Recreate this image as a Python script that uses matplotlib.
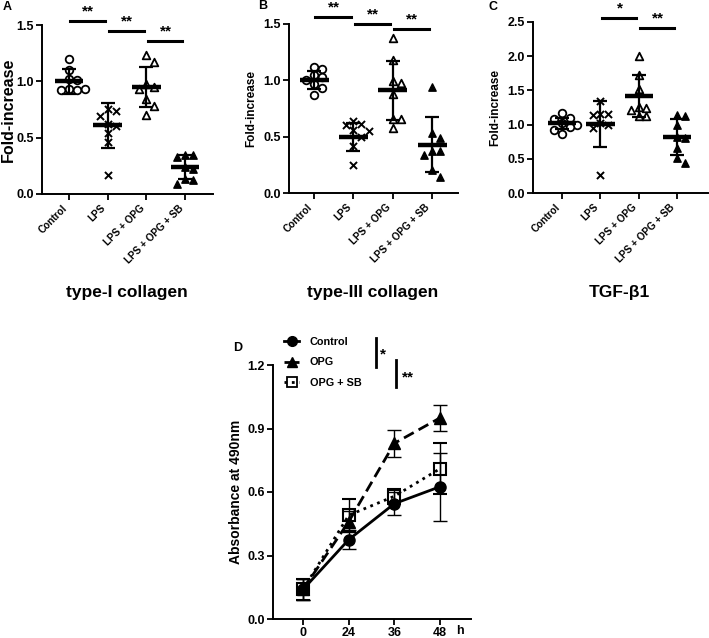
import numpy as np
import matplotlib
matplotlib.use("Agg")
import matplotlib.pyplot as plt
from matplotlib.lines import Line2D

plt.rcParams["font.family"] = ["Liberation Sans", "DejaVu Sans"]
plt.rcParams["font.weight"] = "bold"
plt.rcParams["axes.labelweight"] = "bold"

W, H = 709, 638

groups = ["Control", "LPS", "LPS + OPG", "LPS + OPG + SB"]
markers = ["o", "x", "^", "^"]
filled = [False, False, False, True]

# panel A: type-I collagen
col1_vals = [
    [1.20, 1.10, 1.02, 1.01, 0.93, 0.92, 0.92, 0.93],
    [0.75, 0.74, 0.69, 0.62, 0.60, 0.54, 0.46, 0.17],
    [1.23, 1.17, 0.98, 0.95, 0.93, 0.84, 0.78, 0.70],
    [0.35, 0.35, 0.33, 0.24, 0.22, 0.13, 0.12, 0.09],
]
col1_mean = [1.00, 0.61, 0.95, 0.24]
col1_sd = [0.11, 0.20, 0.18, 0.11]
col1_sig = [(0, 1, 1.535, "**"), (1, 2, 1.446, "**"), (2, 3, 1.36, "**")]

# panel B: type-III collagen
col3_vals = [
    [1.12, 1.10, 1.05, 1.03, 1.00, 0.97, 0.93, 0.87],
    [0.64, 0.61, 0.60, 0.56, 0.55, 0.50, 0.42, 0.25],
    [1.38, 1.18, 0.99, 0.98, 0.88, 0.66, 0.66, 0.58],
    [0.94, 0.535, 0.49, 0.37, 0.37, 0.34, 0.20, 0.145],
]
col3_mean = [1.00, 0.50, 0.91, 0.43]
col3_sd = [0.08, 0.125, 0.26, 0.245]
col3_sig = [(0, 1, 1.56, "**"), (1, 2, 1.497, "**"), (2, 3, 1.455, "**")]

# panel C: TGF-b1
tgf_vals = [
    [1.17, 1.10, 1.08, 1.02, 1.00, 0.97, 0.92, 0.86],
    [1.35, 1.16, 1.15, 1.14, 1.02, 1.00, 0.95, 0.26],
    [2.00, 1.73, 1.52, 1.26, 1.24, 1.22, 1.12, 1.12],
    [1.14, 1.13, 0.99, 0.82, 0.80, 0.66, 0.51, 0.44],
]
tgf_mean = [1.02, 1.01, 1.42, 0.82]
tgf_sd = [0.08, 0.34, 0.31, 0.26]
tgf_sig = [(1, 2, 2.56, "*"), (2, 3, 2.41, "**")]

# panel D: proliferation
hours = ["0", "24", "36", "48"]
ctrl_abs = [0.14, 0.375, 0.545, 0.625]
ctrl_err = [0.05, 0.045, 0.055, 0.16]
opg_abs = [0.14, 0.46, 0.83, 0.95]
opg_err = [0.05, 0.05, 0.065, 0.06]
sb_abs = [0.14, 0.49, 0.58, 0.71]
sb_err = [0.05, 0.075, 0.035, 0.12]


def px_axes(l, t, r, b):
    return fig.add_axes([l / W, 1 - b / H, (r - l) / W, (b - t) / H])


def prism_style(ax):
    for s in ["top", "right"]:
        ax.spines[s].set_visible(False)
    for s in ["left", "bottom"]:
        ax.spines[s].set_linewidth(1.4)
    ax.tick_params(direction="out", length=4.5, width=1.3, labelsize=9, pad=1.5)


def swarm_x(ax, xc, vals, step=0.2, min_px=7.0):
    placed, xs = [], []
    for v in vals:
        for k in [0, 1, -1, 2, -2, 3, -3]:
            x = xc + k * step
            p = ax.transData.transform((x, v))
            if all(np.hypot(*(p - q)) >= min_px for q in placed):
                break
        placed.append(p)
        xs.append(x)
    return xs


def dot_panel(ax, vals, means, sds, sig, ymax, yticks, xlim, ylabel_size, title):
    prism_style(ax)
    ax.set_xlim(*xlim)
    ax.set_ylim(0, ymax)
    ax.spines["left"].set_bounds(0, ymax)
    ax.set_yticks(yticks)
    ax.set_yticklabels([f"{t:.1f}" for t in yticks])
    ax.set_xticks(range(4))
    ax.set_xticklabels(groups, rotation=45, ha="right", va="top", fontsize=7.2)
    ax.tick_params(axis="x", pad=2)
    ax.set_ylabel("Fold-increase", fontsize=ylabel_size)

    for i, v in enumerate(vals):
        xs = swarm_x(ax, i, v)
        if markers[i] == "x":
            ax.scatter(xs, v, marker="x", s=26, c="k", linewidths=1.4, zorder=4)
        elif filled[i]:
            ax.scatter(xs, v, marker="^", s=28, c="k", zorder=4)
        else:
            ax.scatter(xs, v, marker=markers[i], s=30, facecolors="white",
                       edgecolors="k", linewidths=1.3, zorder=4)
        ax.hlines(means[i], i - 0.37, i + 0.37, colors="k", lw=3.2, zorder=5)
        ax.errorbar(i, means[i], yerr=sds[i], fmt="none", ecolor="k",
                    elinewidth=1.6, capsize=5, capthick=1.6, zorder=5)

    for a, b, y, s in sig:
        ax.plot([a + 0.03, b - 0.07], [y, y], color="k", lw=2.2, clip_on=False)
        ax.text((a + b) / 2, y + ymax * 0.015, s, ha="center", va="bottom",
                fontsize=11, clip_on=False)

    bb = ax.get_position()
    fig.text(bb.x0 + bb.width * (1.5 - xlim[0]) / (xlim[1] - xlim[0]), 1 - 293 / H,
             title, ha="center", va="center", fontsize=12.5)


fig = plt.figure(figsize=(W / 100, H / 100), dpi=100)

axA = px_axes(42, 25, 213, 194)
dot_panel(axA, col1_vals, col1_mean, col1_sd, col1_sig, 1.5, [0, 0.5, 1.0, 1.5],
          (-0.7, 3.72), 11.5, "type-I collagen")
axA.yaxis.set_label_coords(-0.15, 0.5)
axB = px_axes(289, 24, 458, 193)
dot_panel(axB, col3_vals, col3_mean, col3_sd, col3_sig, 1.5, [0, 0.5, 1.0, 1.5],
          (-0.64, 3.66), 8.5, "type-III collagen")
axC = px_axes(533, 22, 708, 193)
dot_panel(axC, tgf_vals, tgf_mean, tgf_sd, tgf_sig, 2.5, [0, 0.5, 1.0, 1.5, 2.0, 2.5],
          (-0.76, 3.81), 8.5, "TGF-β1")

for letter, (x, y) in zip("ABCD", [(7, 7), (263, 6), (493, 7), (238, 348)]):
    fig.text(x / W, 1 - y / H, letter, ha="center", va="center", fontsize=9)

# panel D
axD = px_axes(273, 365, 471, 619)
prism_style(axD)
x = np.arange(len(hours))
axD.set_xlim(-0.66, 3.68)
axD.set_ylim(0, 1.2)
axD.spines["left"].set_bounds(0, 1.2)
axD.set_yticks([0, 0.3, 0.6, 0.9, 1.2])
axD.set_yticklabels(["0.0", "0.3", "0.6", "0.9", "1.2"])
axD.set_xticks(x)
axD.set_xticklabels(hours)
axD.set_ylabel("Absorbance at 490nm", fontsize=10, labelpad=3)
axD.text(3.43, -0.055, "h", ha="center", va="center", fontsize=9, clip_on=False)

axD.errorbar(x, sb_abs, yerr=sb_err, fmt=":s", color="k", lw=2, ms=9, mfc="none",
             mew=1.5, capsize=5, elinewidth=1, capthick=1, zorder=3)
axD.errorbar(x, opg_abs, yerr=opg_err, fmt="--^", color="k", lw=2, ms=8,
             dashes=(4, 2), capsize=5, elinewidth=1, capthick=1, zorder=4)
axD.errorbar(x, ctrl_abs, yerr=ctrl_err, fmt="-o", color="k", lw=2, ms=8,
             capsize=5, elinewidth=1, capthick=1, zorder=5)

handles = [
    Line2D([], [], color="k", ls="-", lw=2, marker="o", ms=7),
    Line2D([], [], color="k", ls="--", lw=2, marker="^", ms=7, dashes=(2, 1.5)),
    Line2D([], [], color="k", ls=":", lw=2, marker="s", ms=7, mfc="none", mew=1.3),
]
fig.legend(handles, ["Control", "OPG", "OPG + SB"], loc="upper left",
           bbox_to_anchor=(284 / W, 1 - 337 / H), frameon=False, fontsize=7.8,
           handlelength=1.4, handletextpad=1.0, labelspacing=0.95,
           borderpad=0, borderaxespad=0)

# significance brackets for D
axD.plot([1.6, 1.6], [1.19, 1.327], color="k", lw=2, clip_on=False)
axD.text(1.75, 1.25, "*", ha="center", va="center", fontsize=11, clip_on=False)
axD.plot([2.03, 2.03], [1.096, 1.223], color="k", lw=2, clip_on=False)
axD.text(2.3, 1.14, "**", ha="center", va="center", fontsize=11, clip_on=False)

fig.savefig("out.png", dpi=100)
